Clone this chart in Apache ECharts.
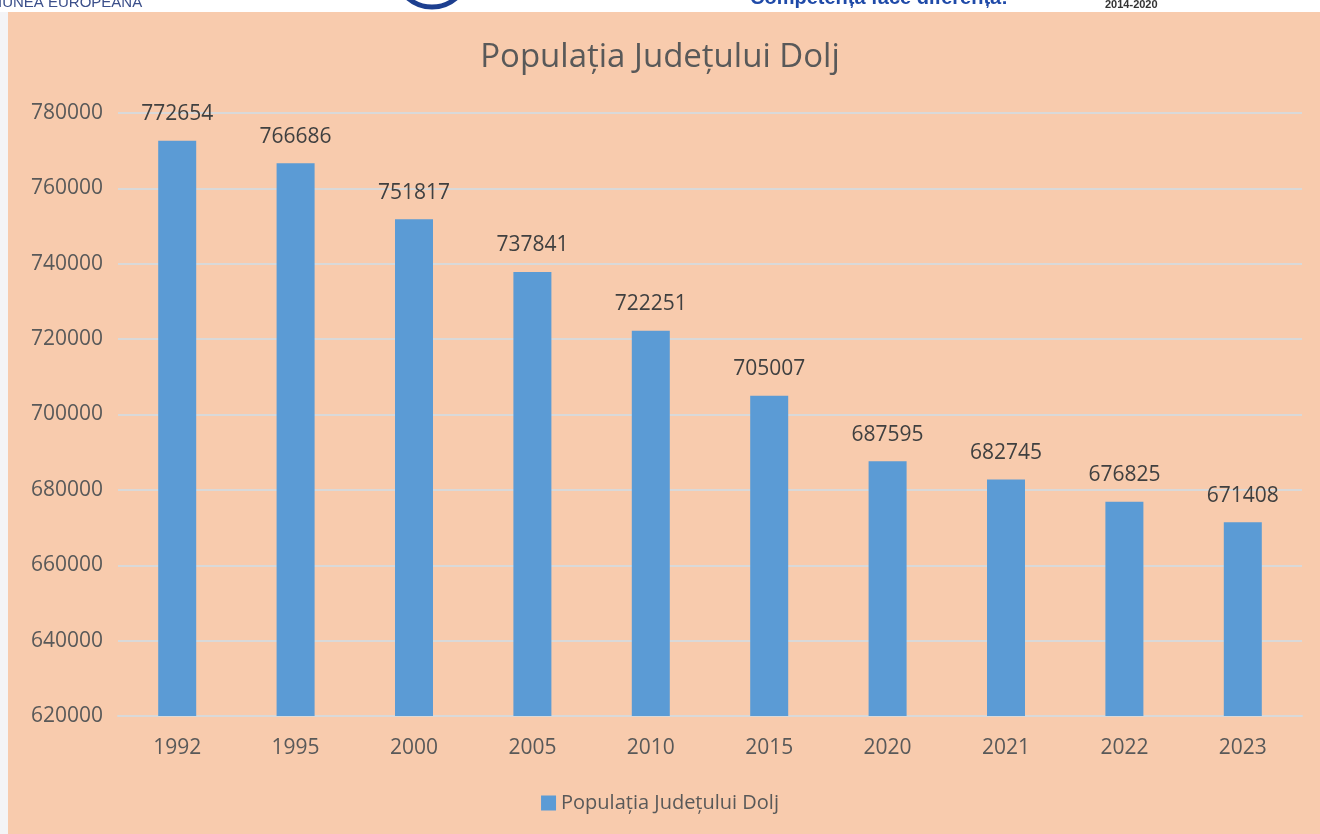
<!DOCTYPE html>
<html>
<head>
<meta charset="utf-8">
<title>Populația Județului Dolj</title>
<script src="https://cdn.jsdelivr.net/npm/echarts@6/dist/echarts.min.js"></script>
<style>
	html, body { margin: 0; padding: 0; background: #ffffff; }
	#chart { width: 1320px; height: 834px; }
</style>
</head>
<body>
<div id="chart"></div>
<script>
// Data
var seriesName = 'Populația Județului Dolj';
var years = ['1992', '1995', '2000', '2005', '2010', '2015', '2020', '2021', '2022', '2023'];
var population = [772654, 766686, 751817, 737841, 722251, 705007, 687595, 682745, 676825, 671408];
var axisMin = 620000;
var axisMax = 780000;
var axisStep = 20000;

var fontName = '"Open Sans", "Noto Sans", sans-serif';
var peach = '#f8cbad';
var barBlue = '#5b9bd5';
var textGrey = '#595959';

var chart = echarts.init(document.getElementById('chart'));

chart.setOption({
	backgroundColor: '#ffffff',
	textStyle: { fontFamily: fontName },
	// page background, cropped header strip of the original document
	graphic: [
		{ type: 'rect', left: 8, top: 12, z: -10, silent: true,
			shape: { width: 1312, height: 822 },
			style: { fill: peach } },
		{ type: 'rect', left: 0, top: 12, z: -10, silent: true,
			shape: { width: 8, height: 822 },
			style: { fill: '#f4f4f6' } },
		{ type: 'text', x: -2, y: -5, z: 10, silent: true,
			style: { text: 'IUNEA EUROPEANĂ', fill: '#3b4f8a', font: '15px "Liberation Sans Narrow", "Liberation Sans", sans-serif' } },
		{ type: 'circle', z: 10, silent: true,
			shape: { cx: 432, cy: -30, r: 37 },
			style: { fill: '#ffffff', stroke: '#1d3f8f', lineWidth: 5 } },
		{ type: 'text', x: 750, y: -12, z: 10, silent: true,
			style: { text: 'Competența face diferența!', fill: '#1f4aa8', font: 'bold 20px "Liberation Sans", sans-serif' } },
		{ type: 'text', x: 1105, y: -1, z: 10, silent: true,
			style: { text: '2014-2020', fill: '#333333', font: 'bold 11px "Liberation Sans Narrow", "Liberation Sans", sans-serif' } }
	],
	title: {
		text: seriesName,
		left: 'center',
		top: 36,
		textStyle: { fontSize: 33, fontWeight: 'normal', color: textGrey, fontFamily: fontName }
	},
	legend: {
		bottom: 16,
		left: 'center',
		icon: 'rect',
		itemWidth: 15,
		itemHeight: 15,
		itemGap: 8,
		textStyle: { fontSize: 20, color: textGrey, fontFamily: fontName },
		data: [seriesName]
	},
	grid: {
		left: 118,
		right: 18,
		top: 113,
		bottom: 118,
		containLabel: false
	},
	xAxis: {
		type: 'category',
		data: years,
		axisLine: { show: true, lineStyle: { color: '#d9d9d9', width: 2 } },
		axisTick: { show: false },
		axisLabel: { color: textGrey, fontSize: 21, margin: 22, fontFamily: fontName }
	},
	yAxis: {
		type: 'value',
		min: axisMin,
		max: axisMax,
		interval: axisStep,
		axisLine: { show: false },
		axisTick: { show: false },
		axisLabel: {
			color: textGrey, fontSize: 21, margin: 15, fontFamily: fontName,
			formatter: function (v) { return String(v); }
		},
		splitLine: { lineStyle: { color: '#d9d9d9', width: 2 } }
	},
	series: [{
		name: seriesName,
		type: 'bar',
		data: population,
		barWidth: 38,
		itemStyle: { color: barBlue },
		label: {
			show: true,
			position: 'top',
			distance: 16,
			color: '#404040',
			fontSize: 21,
			fontFamily: fontName
		}
	}]
});
</script>
</body>
</html>
